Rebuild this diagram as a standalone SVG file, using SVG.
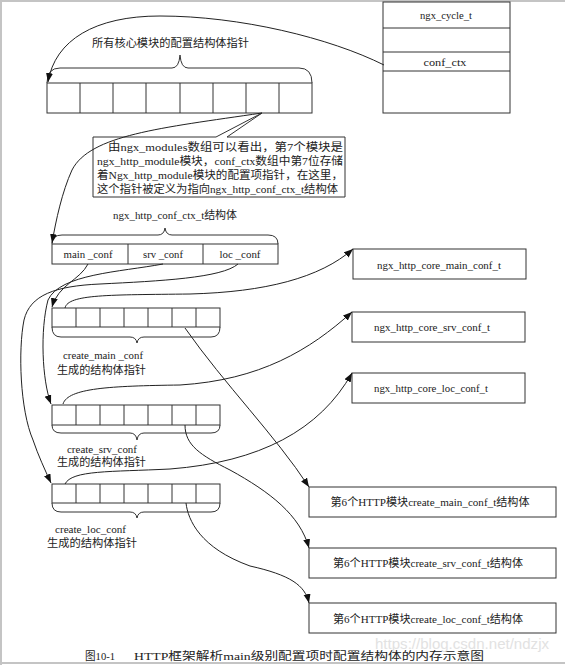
<svg xmlns="http://www.w3.org/2000/svg" width="565" height="665" viewBox="0 0 565 665">
<defs>
<marker id="arr" markerUnits="userSpaceOnUse" markerWidth="10" markerHeight="8" refX="9" refY="3.5" orient="auto">
<path d="M0,0 L9,3.5 L0,7 Z" fill="#111"/>
</marker>
<style>
.box{fill:#fff;stroke:#333;stroke-width:1}
.ln{fill:none;stroke:#333;stroke-width:1}
.br{fill:none;stroke:#333;stroke-width:1}
.con{fill:none;stroke:#222;stroke-width:1;marker-end:url(#arr)}
.t{font-family:"Liberation Serif","Noto Sans CJK SC",serif;font-size:11px;fill:#222;dominant-baseline:central}
.c{text-anchor:middle}
.frame{stroke:#c4c4c4;stroke-width:2;fill:none}
</style>
</defs>
<rect width="565" height="665" fill="#fff"/>
<g id="frame">
<line class="frame" x1="0" y1="1" x2="565" y2="1"/>
<line class="frame" x1="1" y1="0" x2="1" y2="665"/>
<line class="frame" x1="0" y1="663" x2="565" y2="663"/>
</g>

<g id="ngx_cycle_t">
<rect class="box" x="383" y="2" width="127" height="111"/>
<line class="ln" x1="383" y1="28" x2="510" y2="28"/>
<line class="ln" x1="383" y1="52" x2="510" y2="52"/>
<line class="ln" x1="383" y1="71" x2="510" y2="71"/>
<text class="t c" x="446" y="15" textLength="52" lengthAdjust="spacingAndGlyphs">ngx_cycle_t</text>
<text class="t c" x="445" y="62" textLength="43" lengthAdjust="spacingAndGlyphs">conf_ctx</text>
</g>

<g id="core_modules_array">
<text class="t" x="92" y="43" textLength="157" lengthAdjust="spacingAndGlyphs">所有核心模块的配置结构体指针</text>
<path class="br" d="M47,83 Q47,68 60,68 L172,68 Q179,68 180,55 Q181,68 188,68 L299,68 Q312,68 312,83"/>
<rect class="box" x="47" y="83" width="265" height="30"/>
<path class="ln" d="M80,83V113M113,83V113M146,83V113M180,83V113M213,83V113M246,83V113M279,83V113"/>
</g>

<g id="note">
<path class="box" d="M93,137 L216,137 L262,113 L227,137 L345,137 L345,197 L93,197 Z"/>
<text class="t" x="108" y="147" textLength="235" lengthAdjust="spacingAndGlyphs">由ngx_modules数组可以看出，第7个模块是</text>
<text class="t" x="97" y="161" textLength="246" lengthAdjust="spacingAndGlyphs">ngx_http_module模块，conf_ctx数组中第7位存储</text>
<text class="t" x="97" y="175" textLength="246" lengthAdjust="spacingAndGlyphs">着Ngx_http_module模块的配置项指针，在这里，</text>
<text class="t" x="97" y="189" textLength="241" lengthAdjust="spacingAndGlyphs">这个指针被定义为指向ngx_http_conf_ctx_t结构体</text>
</g>

<g id="ngx_http_conf_ctx_t">
<text class="t" x="113" y="215" textLength="124" lengthAdjust="spacingAndGlyphs">ngx_http_conf_ctx_t结构体</text>
<path class="br" d="M52,244 Q52,235 62,235 L158,235 Q164,235 165,228 Q166,235 172,235 L268,235 Q278,235 278,244"/>
<rect class="box" x="52" y="244" width="226" height="20"/>
<path class="ln" d="M128,244V264M203,244V264"/>
<text class="t c" x="88" y="254" textLength="49" lengthAdjust="spacingAndGlyphs">main _conf</text>
<text class="t c" x="163" y="254" textLength="40" lengthAdjust="spacingAndGlyphs">srv _conf</text>
<text class="t c" x="240" y="254" textLength="41" lengthAdjust="spacingAndGlyphs">loc _conf</text>
</g>

<g id="main_conf_array">
<rect class="box" x="52" y="308" width="168" height="19"/>
<path class="ln" d="M76,308V327M100,308V327M124,308V327M148,308V327M172,308V327M196,308V327"/>
<path class="br" d="M52,327 Q52,337 61,337 L130,337 Q136,337 137,343 Q138,337 144,337 L211,337 Q220,337 220,327"/>
<text class="t" x="63" y="355" textLength="80" lengthAdjust="spacingAndGlyphs">create_main _conf</text>
<text class="t" x="57" y="370" textLength="89" lengthAdjust="spacingAndGlyphs">生成的结构体指针</text>
</g>

<g id="srv_conf_array">
<rect class="box" x="52" y="405" width="168" height="20"/>
<path class="ln" d="M76,405V425M100,405V425M124,405V425M148,405V425M172,405V425M196,405V425"/>
<path class="br" d="M52,425 Q52,433 61,433 L130,433 Q136,433 137,440 Q138,433 144,433 L211,433 Q220,433 220,425"/>
<text class="t" x="67" y="449" textLength="70" lengthAdjust="spacingAndGlyphs">create_srv_conf</text>
<text class="t" x="57" y="462" textLength="89" lengthAdjust="spacingAndGlyphs">生成的结构体指针</text>
</g>

<g id="loc_conf_array">
<rect class="box" x="52" y="484" width="168" height="19"/>
<path class="ln" d="M76,484V503M100,484V503M124,484V503M148,484V503M172,484V503M196,484V503"/>
<path class="br" d="M52,503 Q52,512 61,512 L130,512 Q136,512 137,518 Q138,512 144,512 L211,512 Q220,512 220,503"/>
<text class="t" x="55" y="529" textLength="71" lengthAdjust="spacingAndGlyphs">create_loc_conf</text>
<text class="t" x="47" y="543" textLength="90" lengthAdjust="spacingAndGlyphs">生成的结构体指针</text>
</g>

<g id="core_main_conf">
<rect class="box" x="353" y="249" width="173" height="30"/>
<text class="t c" x="439" y="265" textLength="124" lengthAdjust="spacingAndGlyphs">ngx_http_core_main_conf_t</text>
</g>
<g id="core_srv_conf">
<rect class="box" x="352" y="312" width="173" height="30"/>
<text class="t c" x="432" y="327" textLength="116" lengthAdjust="spacingAndGlyphs">ngx_http_core_srv_conf_t</text>
</g>
<g id="core_loc_conf">
<rect class="box" x="352" y="373" width="173" height="30"/>
<text class="t c" x="431" y="388" textLength="114" lengthAdjust="spacingAndGlyphs">ngx_http_core_loc_conf_t</text>
</g>

<g id="mod6_main">
<rect class="box" x="309" y="487" width="247" height="30"/>
<text class="t c" x="430" y="502" textLength="199" lengthAdjust="spacingAndGlyphs">第6个HTTP模块create_main_conf_t结构体</text>
</g>
<g id="mod6_srv">
<rect class="box" x="309" y="548" width="247" height="30"/>
<text class="t c" x="428" y="563" textLength="190" lengthAdjust="spacingAndGlyphs">第6个HTTP模块create_srv_conf_t结构体</text>
</g>
<g id="mod6_loc">
<rect class="box" x="309" y="603" width="247" height="30"/>
<text class="t c" x="428" y="619" textLength="190" lengthAdjust="spacingAndGlyphs">第6个HTTP模块create_loc_conf_t结构体</text>
</g>

<g id="connectors">
<path class="con" d="M384,65 C330,38 240,16 160,16 C95,16 55,40 48,82"/>
<path class="con" d="M262,113 C160,128 90,135 72,170 C62,192 56,220 52,243"/>
<path class="con" d="M88,264 C80,280 58,285 52,307"/>
<path class="con" d="M163,264 C120,272 60,274 48,300 C40,330 42,380 51,404"/>
<path class="con" d="M238,264 C222,278 160,281 100,284 C55,286 30,295 24,320 C18,350 20,410 33,440 C38,455 45,470 51,483"/>
<path class="con" d="M65,308 C68,294 110,295 190,294 C265,292 320,278 353,249"/>
<path class="con" d="M63,404 C68,388 110,386 180,385 C260,380 310,350 352,312"/>
<path class="con" d="M65,484 C72,470 110,472 170,469 C260,462 320,430 352,373"/>
<path class="con" d="M185,328 C225,385 275,435 309,487"/>
<path class="con" d="M185,425 C185,445 200,455 230,470 C270,492 300,515 309,548"/>
<path class="con" d="M186,503 C188,520 200,548 250,566 C290,575 305,585 309,603"/>
</g>

<g id="caption">
<text class="t" x="85" y="656" font-size="12" textLength="30" lengthAdjust="spacingAndGlyphs">图10-1</text>
<text class="t" x="134" y="656" font-size="12" textLength="350" lengthAdjust="spacingAndGlyphs">HTTP框架解析main级别配置项时配置结构体的内存示意图</text>
<text x="375" y="649" font-family="Liberation Sans, sans-serif" font-size="15" fill="#e2e2e2" textLength="174" lengthAdjust="spacingAndGlyphs">https://blog.csdn.net/ndzjx</text>
</g>
</svg>
